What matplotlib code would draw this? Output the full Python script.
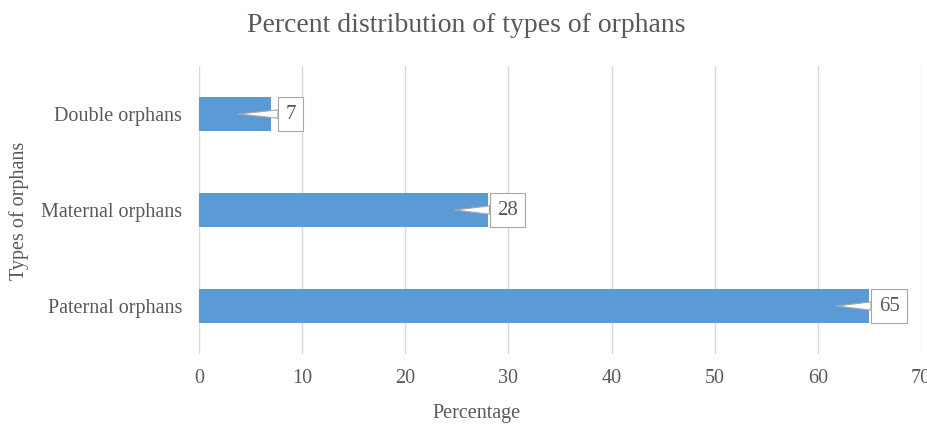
import matplotlib.pyplot as plt

categories = ['Paternal orphans', 'Maternal orphans', 'Double orphans']
values = [65, 28, 7]
xticks = [0, 10, 20, 30, 40, 50, 60, 70]

plt.rcParams['font.family'] = ['Liberation Serif', 'DejaVu Serif']
grey = '#595959'

fig = plt.figure(figsize=(9.28, 4.25), dpi=100)
ax = fig.add_axes([0.2144, 0.167, 0.778, 0.6776])

ypos = list(range(len(categories)))
ax.barh(ypos, values, height=0.35, color='#5b9bd5', zorder=2)

ax.set_xlim(0, 70)
ax.set_ylim(-0.5, len(categories) - 0.5)
ax.set_xticks(xticks)
ax.set_yticks(ypos)
ax.set_yticklabels(categories)
ax.tick_params(axis='both', length=0, labelsize=14.5, colors=grey)
ax.tick_params(axis='y', pad=12)
ax.tick_params(axis='x', pad=11)
ax.grid(axis='x', color='#d9d9d9', linewidth=1, zorder=0)
for s in ax.spines.values():
    s.set_visible(False)

# callout labels
for y, v in zip(ypos, values):
    ax.annotate(str(v), xy=(v - 3.2, y), xytext=(38, 0),
                textcoords='offset points', ha='center', va='center',
                fontsize=15, color=grey,
                bbox=dict(boxstyle='square,pad=0.35', fc='white', ec='#a6a6a6', lw=0.8),
                arrowprops=dict(arrowstyle='wedge,tail_width=0.4', fc='white',
                                ec='#a6a6a6', lw=0.8, shrinkA=0, shrinkB=0),
                zorder=3)

fig.text(0.502, 0.94, 'Percent distribution of types of orphans', ha='center', va='center',
         fontsize=20, color=grey)
fig.text(0.514, 0.026, 'Percentage', ha='center', va='center', fontsize=14.5, color=grey)
fig.text(0.02, 0.505, 'Types of orphans', ha='center', va='center', rotation=90,
         fontsize=14.5, color=grey)

fig.savefig('out.png', dpi=100)
